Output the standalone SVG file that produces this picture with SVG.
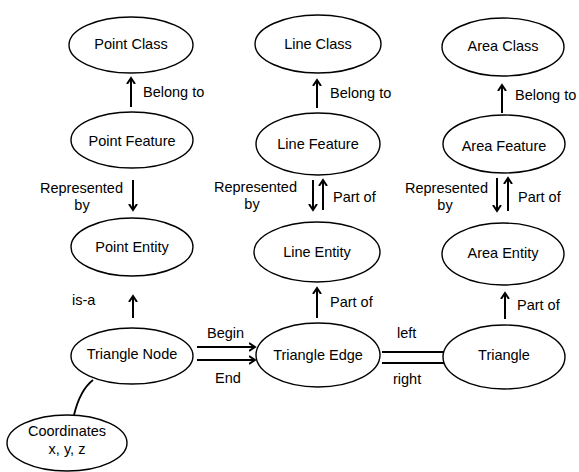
<svg xmlns="http://www.w3.org/2000/svg" width="579" height="472" viewBox="0 0 579 472">
  <style>
    .node ellipse { fill: #fff; stroke: #000; stroke-width: 1.4; }
    text { font-family: "Liberation Sans", Arial, sans-serif; font-size: 14.5px; fill: #000; }
    .nt { text-anchor: middle; dominant-baseline: central; }
    .lbl { dominant-baseline: alphabetic; }
    .edge { stroke: #000; stroke-width: 2; fill: none; }
    .plain { stroke: #000; stroke-width: 1.8; fill: none; }
  </style>
  <defs>
    <marker id="arrow" viewBox="-6 -6 12 12" markerWidth="12" markerHeight="12" markerUnits="userSpaceOnUse" refX="0" refY="0" orient="auto">
      <path d="M-6,-4 L0,0 L-6,4" fill="none" stroke="#000" stroke-width="2"/>
    </marker>
  </defs>

  <!-- Point column -->
  <g id="point-class" class="node"><ellipse cx="131" cy="45" rx="62" ry="28"/><text class="nt" x="131" y="44">Point Class</text></g>
  <g id="point-feature" class="node"><ellipse cx="132" cy="140" rx="61" ry="28"/><text class="nt" x="132" y="141">Point Feature</text></g>
  <g id="point-entity" class="node"><ellipse cx="132" cy="247" rx="61" ry="29"/><text class="nt" x="132" y="247">Point Entity</text></g>
  <g id="triangle-node" class="node"><ellipse cx="132" cy="356" rx="61" ry="28"/><text class="nt" x="132" y="354">Triangle Node</text></g>
  <g id="coordinates" class="node"><ellipse cx="67" cy="443" rx="60" ry="28"/><text class="nt" x="67" y="431">Coordinates</text><text class="nt" x="67" y="449">x, y, z</text></g>

  <!-- Line column -->
  <g id="line-class" class="node"><ellipse cx="318" cy="44" rx="63" ry="29"/><text class="nt" x="318" y="44">Line Class</text></g>
  <g id="line-feature" class="node"><ellipse cx="318" cy="144" rx="62" ry="31"/><text class="nt" x="318" y="144">Line Feature</text></g>
  <g id="line-entity" class="node"><ellipse cx="317" cy="252" rx="63" ry="30"/><text class="nt" x="317" y="252">Line Entity</text></g>
  <g id="triangle-edge" class="node"><ellipse cx="318" cy="355" rx="62" ry="32"/><text class="nt" x="318" y="355">Triangle Edge</text></g>

  <!-- Area column -->
  <g id="area-class" class="node"><ellipse cx="503" cy="47" rx="61" ry="29"/><text class="nt" x="503" y="46">Area Class</text></g>
  <g id="area-feature" class="node"><ellipse cx="504" cy="144" rx="61" ry="29"/><text class="nt" x="504" y="146">Area Feature</text></g>
  <g id="area-entity" class="node"><ellipse cx="503" cy="254" rx="61" ry="31"/><text class="nt" x="503" y="253">Area Entity</text></g>
  <g id="triangle" class="node"><ellipse cx="504" cy="357" rx="61" ry="32"/><text class="nt" x="504" y="355">Triangle</text></g>

  <!-- Connectors -->
  <g id="connectors">
    <line class="edge" x1="131" y1="107" x2="131" y2="78" marker-end="url(#arrow)"/>
    <line class="edge" x1="133" y1="180" x2="133" y2="210" marker-end="url(#arrow)"/>
    <line class="edge" x1="133" y1="318" x2="133" y2="296" marker-end="url(#arrow)"/>
    <path class="plain" d="M93,380 Q80,390 74,415"/>

    <line class="edge" x1="317" y1="108" x2="317" y2="80" marker-end="url(#arrow)"/>
    <line class="edge" x1="313" y1="180" x2="313" y2="210" marker-end="url(#arrow)"/>
    <line class="edge" x1="323" y1="210" x2="323" y2="180" marker-end="url(#arrow)"/>
    <line class="edge" x1="317" y1="318" x2="317" y2="288" marker-end="url(#arrow)"/>

    <line class="edge" x1="502" y1="113" x2="502" y2="85" marker-end="url(#arrow)"/>
    <line class="edge" x1="497" y1="178" x2="497" y2="211" marker-end="url(#arrow)"/>
    <line class="edge" x1="508" y1="211" x2="508" y2="178" marker-end="url(#arrow)"/>
    <line class="edge" x1="505" y1="319" x2="505" y2="293" marker-end="url(#arrow)"/>

    <line class="edge" x1="197" y1="347" x2="255" y2="347" marker-end="url(#arrow)"/>
    <line class="edge" x1="197" y1="360" x2="255" y2="360" marker-end="url(#arrow)"/>
    <line class="edge" x1="382" y1="352" x2="444" y2="352"/>
    <line class="edge" x1="382" y1="363" x2="444" y2="363"/>

    <!-- connector labels -->
    <text class="lbl" x="143" y="97">Belong to</text>
    <text class="lbl" x="123" y="193" text-anchor="end">Represented</text>
    <text class="lbl" x="82" y="210" text-anchor="middle">by</text>
    <text class="lbl" x="72" y="305">is-a</text>

    <text class="lbl" x="330" y="98">Belong to</text>
    <text class="lbl" x="297" y="192" text-anchor="end">Represented</text>
    <text class="lbl" x="252" y="209" text-anchor="middle">by</text>
    <text class="lbl" x="333" y="202">Part of</text>
    <text class="lbl" x="330" y="307">Part of</text>

    <text class="lbl" x="515" y="100">Belong to</text>
    <text class="lbl" x="488" y="193" text-anchor="end">Represented</text>
    <text class="lbl" x="445" y="210" text-anchor="middle">by</text>
    <text class="lbl" x="518" y="202">Part of</text>
    <text class="lbl" x="517" y="310">Part of</text>

    <text class="lbl" x="207" y="338">Begin</text>
    <text class="lbl" x="215" y="383">End</text>
    <text class="lbl" x="397" y="338">left</text>
    <text class="lbl" x="393" y="384">right</text>
  </g>
</svg>
